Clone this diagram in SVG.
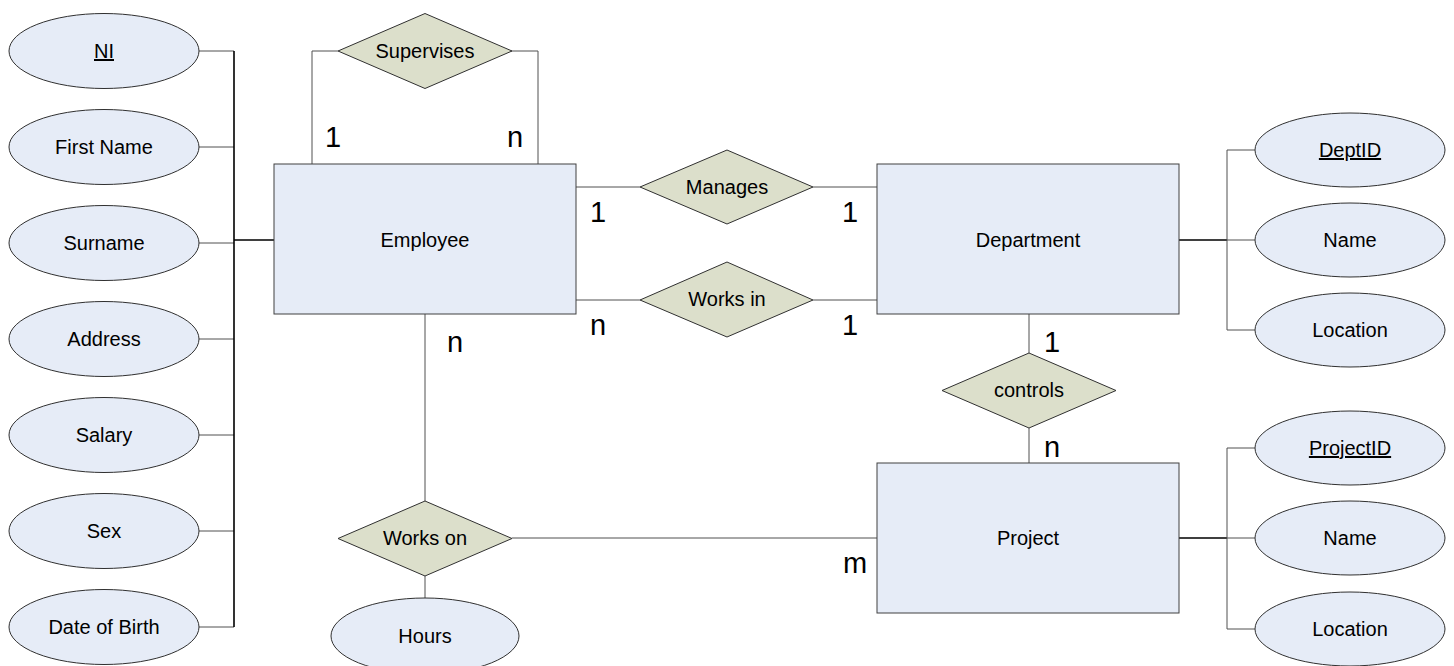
<svg xmlns="http://www.w3.org/2000/svg" width="1454" height="666" viewBox="0 0 1454 666">
<style>
.ent{fill:#e6ecf7;stroke:#404040;stroke-width:1}
.att{fill:#e6ecf7;stroke:#303030;stroke-width:1}
.rel{fill:#dcdfcb;stroke:#303030;stroke-width:1}
.t{font-family:"Liberation Sans",Arial,sans-serif;font-size:20px;fill:#000;text-anchor:middle}
.u{text-decoration:underline}
.c{font-family:"Liberation Sans",Arial,sans-serif;font-size:29px;fill:#000;text-anchor:middle}
.ln{fill:none;stroke:#505050;stroke-width:1}
.tk{fill:none;stroke:#000;stroke-width:1.6}
</style>
<rect width="1454" height="666" fill="#fff"/>
<g id="connectors">
<path class="ln" d="M199,51H234M199,147H234M199,339H234M199,435H234M199,531H234M199,627H234M199,243H234"/>
<path class="tk" d="M234,51V627M234,240H274"/>
<path class="ln" d="M338,51H312V164M511,51H538V164"/>
<path class="ln" d="M576,187H640M813,187H877M576,300H640M813,300H877"/>
<path class="ln" d="M1029,314V353M1029,428V463"/>
<path class="ln" d="M425,314V501M512,538H877M425,576V598"/>
<path class="tk" d="M1179,240H1227M1179,538H1227"/>
<path class="ln" d="M1227,240H1255M1227,150V330M1227,150H1255M1227,330H1255"/>
<path class="ln" d="M1227,538H1255M1227,448V629M1227,448H1255M1227,629H1255"/>
</g>
<g id="labels">
<text class="c" x="333" y="147">1</text>
<text class="c" x="515" y="147">n</text>
<text class="c" x="598" y="222">1</text>
<text class="c" x="850" y="222">1</text>
<text class="c" x="598" y="335">n</text>
<text class="c" x="850" y="335">1</text>
<text class="c" x="455" y="352">n</text>
<text class="c" x="1052" y="352">1</text>
<text class="c" x="1052" y="457">n</text>
<text class="c" x="855" y="573">m</text>
</g>
<g id="employee"><rect class="ent" x="274" y="164" width="302" height="150"/><text class="t" x="425" y="247">Employee</text></g>
<g id="department"><rect class="ent" x="877" y="164" width="302" height="150"/><text class="t" x="1028" y="247">Department</text></g>
<g id="project"><rect class="ent" x="877" y="463" width="302" height="150"/><text class="t" x="1028" y="545">Project</text></g>
<g id="supervises"><polygon class="rel" points="425,13.5 512,51 425,88.5 338,51"/><text class="t" x="425" y="58">Supervises</text></g>
<g id="manages"><polygon class="rel" points="727,150 813,187 727,224 640,187"/><text class="t" x="727" y="194">Manages</text></g>
<g id="worksin"><polygon class="rel" points="727,262 813,300 727,337 640,300"/><text class="t" x="727" y="306">Works in</text></g>
<g id="controls"><polygon class="rel" points="1029,353 1116,390.5 1029,428 942,390.5"/><text class="t" x="1029" y="397">controls</text></g>
<g id="workson"><polygon class="rel" points="425,501 512,538.5 425,576 338,538.5"/><text class="t" x="425" y="545">Works on</text></g>
<g id="attr-ni"><ellipse class="att" cx="104" cy="51" rx="95" ry="37.5"/><text class="t u" x="104" y="58">NI</text></g>
<g id="attr-firstname"><ellipse class="att" cx="104" cy="147" rx="95" ry="37.5"/><text class="t" x="104" y="154">First Name</text></g>
<g id="attr-surname"><ellipse class="att" cx="104" cy="243" rx="95" ry="37.5"/><text class="t" x="104" y="250">Surname</text></g>
<g id="attr-address"><ellipse class="att" cx="104" cy="339" rx="95" ry="37.5"/><text class="t" x="104" y="346">Address</text></g>
<g id="attr-salary"><ellipse class="att" cx="104" cy="435" rx="95" ry="37.5"/><text class="t" x="104" y="442">Salary</text></g>
<g id="attr-sex"><ellipse class="att" cx="104" cy="531" rx="95" ry="37.5"/><text class="t" x="104" y="538">Sex</text></g>
<g id="attr-dob"><ellipse class="att" cx="104" cy="627" rx="95" ry="37.5"/><text class="t" x="104" y="634">Date of Birth</text></g>
<g id="attr-hours"><ellipse class="att" cx="425" cy="636" rx="94" ry="38"/><text class="t" x="425" y="643">Hours</text></g>
<g id="attr-deptid"><ellipse class="att" cx="1350" cy="150" rx="95" ry="37"/><text class="t u" x="1350" y="157">DeptID</text></g>
<g id="attr-deptname"><ellipse class="att" cx="1350" cy="240" rx="95" ry="37"/><text class="t" x="1350" y="247">Name</text></g>
<g id="attr-deptloc"><ellipse class="att" cx="1350" cy="330" rx="95" ry="37"/><text class="t" x="1350" y="337">Location</text></g>
<g id="attr-projectid"><ellipse class="att" cx="1350" cy="448" rx="95" ry="37"/><text class="t u" x="1350" y="455">ProjectID</text></g>
<g id="attr-projname"><ellipse class="att" cx="1350" cy="538" rx="95" ry="37"/><text class="t" x="1350" y="545">Name</text></g>
<g id="attr-projloc"><ellipse class="att" cx="1350" cy="629" rx="95" ry="37"/><text class="t" x="1350" y="636">Location</text></g>
</svg>
